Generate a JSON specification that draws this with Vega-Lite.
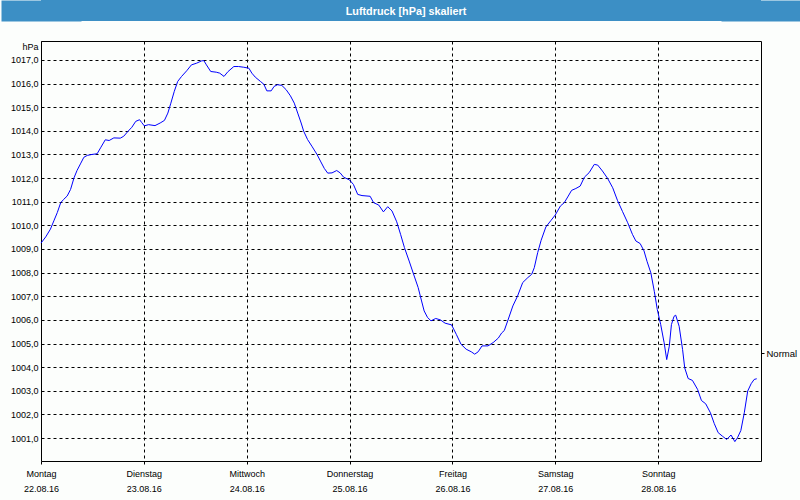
{
  "$schema": "https://vega.github.io/schema/vega-lite/v6.json",
  "background": "#fcfefc",
  "padding": 0,
  "spacing": 19,
  "config": {
    "font": "Liberation Sans",
    "axis": {"labelFont": "Liberation Sans", "labelFontSize": 9, "labelColor": "#000000", "titleFont": "Liberation Sans", "titleFontSize": 9, "titleColor": "#000000", "titleFontWeight": "normal"}
  },
  "vconcat": [
    {
      "width": 720,
      "height": 21,
      "view": {"fill": "#3c8fc5", "stroke": null},
      "data": {"values": [{"title": "Luftdruck [hPa] skaliert", "v": 0}]},
      "layer": [
        {
          "mark": {"type": "text", "color": "#ffffff", "font": "Liberation Sans", "fontWeight": "bold", "fontSize": 10.8, "dx": 5, "dy": 1},
          "encoding": {
            "text": {"field": "title", "type": "nominal"},
            "y": {"field": "v", "type": "quantitative", "scale": {"domain": [-1, 1]},
              "axis": {"orient": "left", "domain": true, "domainColor": "#3c8fc5", "domainWidth": 80, "domainCap": "butt", "labels": false, "ticks": false, "grid": false, "title": null, "minExtent": 40, "maxExtent": 40}}
          }
        },
        {
          "mark": {"type": "point", "opacity": 0},
          "encoding": {
            "y": {"field": "v", "type": "quantitative", "scale": {"domain": [-1, 1]},
              "axis": {"orient": "right", "domain": true, "domainColor": "#3c8fc5", "domainWidth": 80, "domainCap": "butt", "labels": false, "ticks": false, "grid": false, "title": null, "minExtent": 40, "maxExtent": 40}}
          }
        }
      ],
      "resolve": {"axis": {"y": "independent"}}
    },
    {
      "width": 720,
      "height": 420,
      "view": {"stroke": "#000000", "strokeWidth": 1},
      "layer": [
        {
          "data": {"values": [
            {"t": "2016-08-22T00:00", "hPa": 1009.25},
            {"t": "2016-08-22T01:06", "hPa": 1009.51},
            {"t": "2016-08-22T02:12", "hPa": 1009.84},
            {"t": "2016-08-22T03:00", "hPa": 1010.19},
            {"t": "2016-08-22T03:48", "hPa": 1010.54},
            {"t": "2016-08-22T04:36", "hPa": 1010.96},
            {"t": "2016-08-22T05:18", "hPa": 1011.10},
            {"t": "2016-08-22T06:06", "hPa": 1011.24},
            {"t": "2016-08-22T06:54", "hPa": 1011.52},
            {"t": "2016-08-22T07:42", "hPa": 1012.01},
            {"t": "2016-08-22T08:24", "hPa": 1012.32},
            {"t": "2016-08-22T09:12", "hPa": 1012.60},
            {"t": "2016-08-22T10:00", "hPa": 1012.88},
            {"t": "2016-08-22T10:48", "hPa": 1012.96},
            {"t": "2016-08-22T11:54", "hPa": 1013.00},
            {"t": "2016-08-22T13:06", "hPa": 1013.03},
            {"t": "2016-08-22T13:54", "hPa": 1013.28},
            {"t": "2016-08-22T15:00", "hPa": 1013.62},
            {"t": "2016-08-22T15:54", "hPa": 1013.59},
            {"t": "2016-08-22T17:00", "hPa": 1013.70},
            {"t": "2016-08-22T18:30", "hPa": 1013.69},
            {"t": "2016-08-22T19:18", "hPa": 1013.77},
            {"t": "2016-08-22T20:18", "hPa": 1013.98},
            {"t": "2016-08-22T21:12", "hPa": 1014.15},
            {"t": "2016-08-22T22:06", "hPa": 1014.40},
            {"t": "2016-08-22T23:00", "hPa": 1014.47},
            {"t": "2016-08-22T23:30", "hPa": 1014.35},
            {"t": "2016-08-23T00:06", "hPa": 1014.21},
            {"t": "2016-08-23T01:06", "hPa": 1014.26},
            {"t": "2016-08-23T02:36", "hPa": 1014.22},
            {"t": "2016-08-23T03:48", "hPa": 1014.33},
            {"t": "2016-08-23T04:48", "hPa": 1014.44},
            {"t": "2016-08-23T05:36", "hPa": 1014.75},
            {"t": "2016-08-23T06:18", "hPa": 1015.17},
            {"t": "2016-08-23T07:06", "hPa": 1015.67},
            {"t": "2016-08-23T07:54", "hPa": 1016.09},
            {"t": "2016-08-23T08:48", "hPa": 1016.30},
            {"t": "2016-08-23T10:00", "hPa": 1016.54},
            {"t": "2016-08-23T11:06", "hPa": 1016.79},
            {"t": "2016-08-23T12:18", "hPa": 1016.86},
            {"t": "2016-08-23T13:30", "hPa": 1016.96},
            {"t": "2016-08-23T14:00", "hPa": 1016.97},
            {"t": "2016-08-23T14:36", "hPa": 1016.79},
            {"t": "2016-08-23T15:36", "hPa": 1016.51},
            {"t": "2016-08-23T16:54", "hPa": 1016.48},
            {"t": "2016-08-23T17:42", "hPa": 1016.44},
            {"t": "2016-08-23T18:42", "hPa": 1016.30},
            {"t": "2016-08-23T19:36", "hPa": 1016.50},
            {"t": "2016-08-23T21:00", "hPa": 1016.72},
            {"t": "2016-08-23T22:06", "hPa": 1016.72},
            {"t": "2016-08-23T23:18", "hPa": 1016.69},
            {"t": "2016-08-24T00:30", "hPa": 1016.65},
            {"t": "2016-08-24T01:12", "hPa": 1016.44},
            {"t": "2016-08-24T02:00", "hPa": 1016.27},
            {"t": "2016-08-24T03:12", "hPa": 1016.09},
            {"t": "2016-08-24T04:00", "hPa": 1015.97},
            {"t": "2016-08-24T04:42", "hPa": 1015.69},
            {"t": "2016-08-24T05:42", "hPa": 1015.69},
            {"t": "2016-08-24T06:24", "hPa": 1015.88},
            {"t": "2016-08-24T07:12", "hPa": 1015.95},
            {"t": "2016-08-24T08:12", "hPa": 1015.92},
            {"t": "2016-08-24T09:12", "hPa": 1015.74},
            {"t": "2016-08-24T10:12", "hPa": 1015.48},
            {"t": "2016-08-24T11:06", "hPa": 1015.17},
            {"t": "2016-08-24T11:54", "hPa": 1014.75},
            {"t": "2016-08-24T12:42", "hPa": 1014.33},
            {"t": "2016-08-24T13:18", "hPa": 1013.98},
            {"t": "2016-08-24T14:12", "hPa": 1013.63},
            {"t": "2016-08-24T15:12", "hPa": 1013.35},
            {"t": "2016-08-24T16:24", "hPa": 1013.00},
            {"t": "2016-08-24T17:12", "hPa": 1012.72},
            {"t": "2016-08-24T18:06", "hPa": 1012.41},
            {"t": "2016-08-24T18:54", "hPa": 1012.21},
            {"t": "2016-08-24T19:54", "hPa": 1012.22},
            {"t": "2016-08-24T21:00", "hPa": 1012.32},
            {"t": "2016-08-24T21:48", "hPa": 1012.22},
            {"t": "2016-08-24T22:36", "hPa": 1012.04},
            {"t": "2016-08-25T00:00", "hPa": 1011.92},
            {"t": "2016-08-25T00:54", "hPa": 1011.73},
            {"t": "2016-08-25T01:54", "hPa": 1011.31},
            {"t": "2016-08-25T02:54", "hPa": 1011.26},
            {"t": "2016-08-25T04:48", "hPa": 1011.23},
            {"t": "2016-08-25T05:36", "hPa": 1010.96},
            {"t": "2016-08-25T06:48", "hPa": 1010.86},
            {"t": "2016-08-25T07:54", "hPa": 1010.57},
            {"t": "2016-08-25T08:54", "hPa": 1010.79},
            {"t": "2016-08-25T09:54", "hPa": 1010.61},
            {"t": "2016-08-25T11:00", "hPa": 1010.15},
            {"t": "2016-08-25T11:54", "hPa": 1009.62},
            {"t": "2016-08-25T12:48", "hPa": 1009.06},
            {"t": "2016-08-25T13:54", "hPa": 1008.49},
            {"t": "2016-08-25T15:00", "hPa": 1007.90},
            {"t": "2016-08-25T16:00", "hPa": 1007.37},
            {"t": "2016-08-25T16:48", "hPa": 1006.80},
            {"t": "2016-08-25T17:24", "hPa": 1006.38},
            {"t": "2016-08-25T18:12", "hPa": 1006.10},
            {"t": "2016-08-25T19:00", "hPa": 1005.96},
            {"t": "2016-08-25T20:06", "hPa": 1006.06},
            {"t": "2016-08-25T21:12", "hPa": 1006.00},
            {"t": "2016-08-25T22:18", "hPa": 1005.86},
            {"t": "2016-08-25T23:48", "hPa": 1005.79},
            {"t": "2016-08-26T00:54", "hPa": 1005.39},
            {"t": "2016-08-26T02:00", "hPa": 1004.97},
            {"t": "2016-08-26T03:12", "hPa": 1004.76},
            {"t": "2016-08-26T04:24", "hPa": 1004.65},
            {"t": "2016-08-26T05:12", "hPa": 1004.55},
            {"t": "2016-08-26T06:00", "hPa": 1004.65},
            {"t": "2016-08-26T06:54", "hPa": 1004.90},
            {"t": "2016-08-26T08:18", "hPa": 1004.90},
            {"t": "2016-08-26T09:30", "hPa": 1005.04},
            {"t": "2016-08-26T10:42", "hPa": 1005.23},
            {"t": "2016-08-26T11:30", "hPa": 1005.45},
            {"t": "2016-08-26T12:06", "hPa": 1005.55},
            {"t": "2016-08-26T12:54", "hPa": 1005.96},
            {"t": "2016-08-26T14:06", "hPa": 1006.59},
            {"t": "2016-08-26T15:12", "hPa": 1007.01},
            {"t": "2016-08-26T16:24", "hPa": 1007.58},
            {"t": "2016-08-26T17:36", "hPa": 1007.79},
            {"t": "2016-08-26T18:30", "hPa": 1007.93},
            {"t": "2016-08-26T19:06", "hPa": 1008.21},
            {"t": "2016-08-26T19:54", "hPa": 1008.85},
            {"t": "2016-08-26T20:42", "hPa": 1009.37},
            {"t": "2016-08-26T21:48", "hPa": 1009.93},
            {"t": "2016-08-26T23:00", "hPa": 1010.21},
            {"t": "2016-08-27T00:00", "hPa": 1010.44},
            {"t": "2016-08-27T01:12", "hPa": 1010.82},
            {"t": "2016-08-27T02:06", "hPa": 1010.96},
            {"t": "2016-08-27T02:54", "hPa": 1011.20},
            {"t": "2016-08-27T03:48", "hPa": 1011.48},
            {"t": "2016-08-27T04:48", "hPa": 1011.56},
            {"t": "2016-08-27T05:48", "hPa": 1011.66},
            {"t": "2016-08-27T06:48", "hPa": 1012.04},
            {"t": "2016-08-27T07:54", "hPa": 1012.23},
            {"t": "2016-08-27T09:06", "hPa": 1012.58},
            {"t": "2016-08-27T09:54", "hPa": 1012.55},
            {"t": "2016-08-27T11:00", "hPa": 1012.30},
            {"t": "2016-08-27T12:12", "hPa": 1011.99},
            {"t": "2016-08-27T13:24", "hPa": 1011.59},
            {"t": "2016-08-27T14:30", "hPa": 1011.06},
            {"t": "2016-08-27T15:42", "hPa": 1010.58},
            {"t": "2016-08-27T16:54", "hPa": 1010.11},
            {"t": "2016-08-27T18:00", "hPa": 1009.62},
            {"t": "2016-08-27T18:48", "hPa": 1009.34},
            {"t": "2016-08-27T19:48", "hPa": 1009.23},
            {"t": "2016-08-27T20:42", "hPa": 1008.92},
            {"t": "2016-08-27T21:24", "hPa": 1008.48},
            {"t": "2016-08-27T22:18", "hPa": 1007.99},
            {"t": "2016-08-27T23:06", "hPa": 1007.21},
            {"t": "2016-08-27T23:48", "hPa": 1006.44},
            {"t": "2016-08-28T00:36", "hPa": 1005.80},
            {"t": "2016-08-28T01:24", "hPa": 1005.03},
            {"t": "2016-08-28T02:00", "hPa": 1004.32},
            {"t": "2016-08-28T02:36", "hPa": 1004.89},
            {"t": "2016-08-28T03:06", "hPa": 1005.80},
            {"t": "2016-08-28T03:42", "hPa": 1006.15},
            {"t": "2016-08-28T04:06", "hPa": 1006.20},
            {"t": "2016-08-28T04:54", "hPa": 1005.73},
            {"t": "2016-08-28T05:42", "hPa": 1004.75},
            {"t": "2016-08-28T06:12", "hPa": 1003.97},
            {"t": "2016-08-28T07:00", "hPa": 1003.52},
            {"t": "2016-08-28T08:00", "hPa": 1003.44},
            {"t": "2016-08-28T09:12", "hPa": 1003.06},
            {"t": "2016-08-28T10:06", "hPa": 1002.59},
            {"t": "2016-08-28T11:06", "hPa": 1002.45},
            {"t": "2016-08-28T12:12", "hPa": 1002.07},
            {"t": "2016-08-28T13:06", "hPa": 1001.61},
            {"t": "2016-08-28T14:00", "hPa": 1001.23},
            {"t": "2016-08-28T15:00", "hPa": 1001.08},
            {"t": "2016-08-28T16:00", "hPa": 1000.94},
            {"t": "2016-08-28T17:00", "hPa": 1001.13},
            {"t": "2016-08-28T17:54", "hPa": 1000.85},
            {"t": "2016-08-28T18:30", "hPa": 1001.01},
            {"t": "2016-08-28T19:18", "hPa": 1001.32},
            {"t": "2016-08-28T20:06", "hPa": 1002.07},
            {"t": "2016-08-28T20:54", "hPa": 1002.99},
            {"t": "2016-08-28T21:42", "hPa": 1003.30},
            {"t": "2016-08-28T22:24", "hPa": 1003.48},
            {"t": "2016-08-28T23:00", "hPa": 1003.51}
          ]},
          "mark": {"type": "line", "color": "#0000ff", "strokeWidth": 1, "interpolate": "linear"},
          "encoding": {
            "x": {
              "field": "t", "type": "temporal",
              "scale": {"domain": [{"year": 2016, "month": 8, "date": 22}, {"year": 2016, "month": 8, "date": 29}]},
              "axis": {
                "orient": "bottom", "title": null,
                "values": [
                  {"year": 2016, "month": 8, "date": 22},
                  {"year": 2016, "month": 8, "date": 23},
                  {"year": 2016, "month": 8, "date": 24},
                  {"year": 2016, "month": 8, "date": 25},
                  {"year": 2016, "month": 8, "date": 26},
                  {"year": 2016, "month": 8, "date": 27},
                  {"year": 2016, "month": 8, "date": 28}
                ],
                "labelExpr": "[['Sonntag','Montag','Dienstag','Mittwoch','Donnerstag','Freitag','Samstag'][day(datum.value)], timeFormat(datum.value, '%d.%m.%y')]",
                "grid": true, "gridColor": "#000000", "gridDash": [3, 3], "gridOpacity": 1, "gridWidth": 1,
                "domain": false, "ticks": true, "tickSize": 3, "tickColor": "#000000", "tickWidth": 1,
                "labelAlign": "center", "labelBaseline": "top", "labelPadding": 5, "labelLineHeight": 15,
                "labelFlush": false, "labelOverlap": false, "labelBound": false,
                "minExtent": 40, "maxExtent": 40
              }
            },
            "y": {
              "field": "hPa", "type": "quantitative",
              "scale": {"domain": [1000.03, 1017.8], "nice": false, "zero": false},
              "axis": {
                "orient": "left",
                "values": [1001, 1002, 1003, 1004, 1005, 1006, 1007, 1008, 1009, 1010, 1011, 1012, 1013, 1014, 1015, 1016, 1017],
                "labelExpr": "replace(format(datum.value, '.1f'), '.', ',')",
                "grid": true, "gridColor": "#000000", "gridDash": [3, 3], "gridOpacity": 1, "gridWidth": 1,
                "domain": false, "ticks": false, "tickSize": 0, "labelPadding": 3,
                "labelAlign": "right", "labelBaseline": "middle", "labelFlush": false, "labelOverlap": false, "labelBound": false,
                "title": "hPa", "titleAngle": 0, "titleAlign": "right", "titleBaseline": "middle", "titleX": -3, "titleY": 5,
                "minExtent": 40, "maxExtent": 40
              }
            }
          }
        },
        {
          "data": {"values": [{"label": "Normal", "normal": 1004.58}]},
          "mark": {"type": "point", "opacity": 0},
          "encoding": {
            "y": {
              "field": "normal", "type": "quantitative",
              "scale": {"domain": [1000.03, 1017.8], "nice": false, "zero": false},
              "axis": {
                "orient": "right", "values": [1004.58], "labelExpr": "'Normal'", "title": null,
                "grid": false, "domain": false, "ticks": true, "tickSize": 3, "tickColor": "#000000", "tickWidth": 1,
                "labelPadding": 2, "labelAlign": "left", "labelBaseline": "middle", "labelFontSize": 9.5,
                "minExtent": 40, "maxExtent": 40
              }
            }
          }
        }
      ],
      "resolve": {"axis": {"y": "independent"}}
    }
  ]
}
